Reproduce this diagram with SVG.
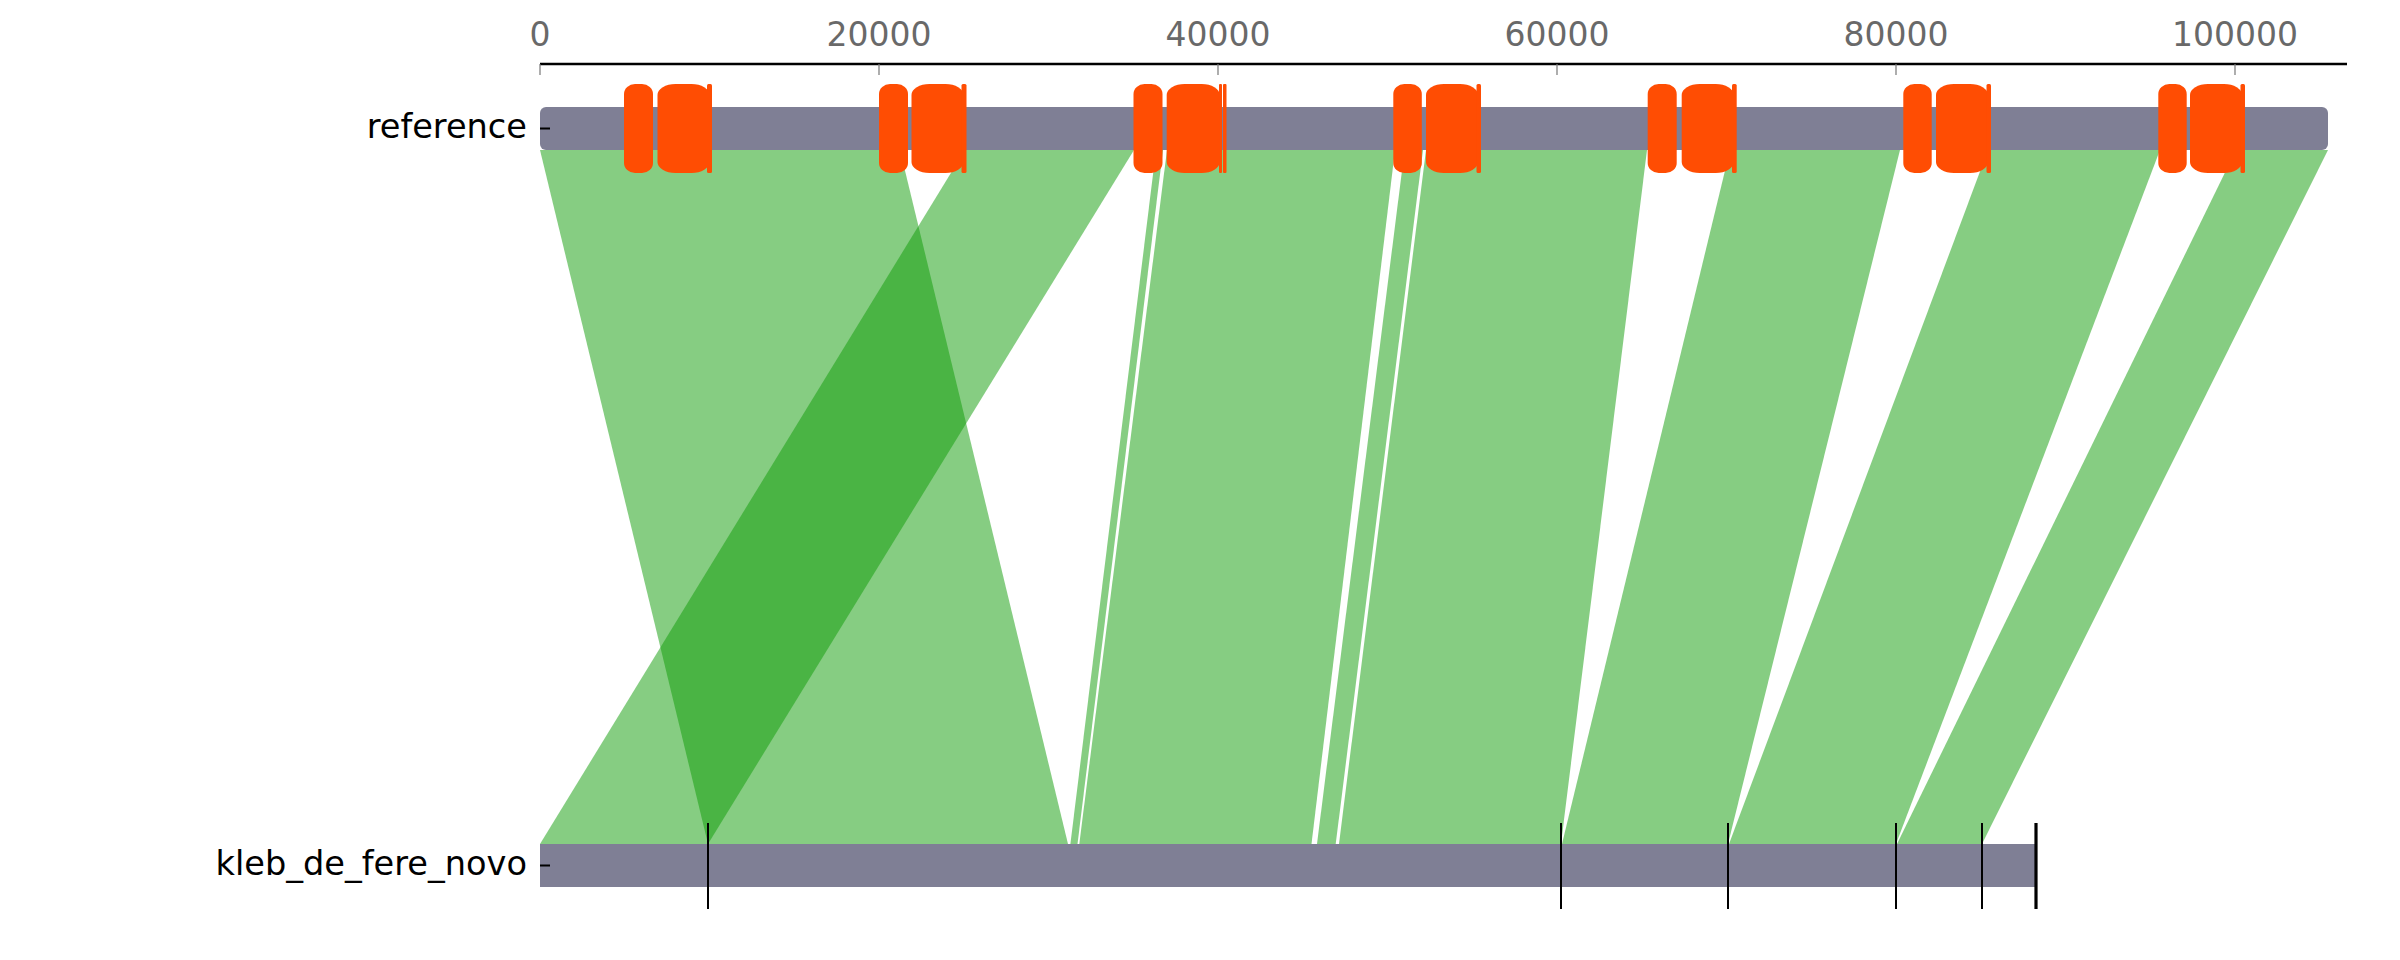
<svg xmlns="http://www.w3.org/2000/svg" width="2400" height="960" viewBox="0 0 2400 960">
<style>
.lbl{font-family:"DejaVu Sans",Verdana,sans-serif;font-size:33.6px;fill:#000}
.ax{font-family:"DejaVu Sans",Verdana,sans-serif;font-size:33px;fill:#696969;text-anchor:middle}
.rib{fill:#0e9b05;fill-opacity:0.5;stroke:none}
.bar{fill:#7f7f95}
.feat{fill:#ff4d03}
.tk{stroke:#000;stroke-width:2}
.gt{stroke:#777;stroke-width:1.2}
</style>
<rect width="2400" height="960" fill="#fff"/>
<g id="axis">
<line x1="540" y1="64" x2="2347" y2="64" stroke="#000" stroke-width="2.6"/>
<line class="gt" x1="540" y1="64" x2="540" y2="75"/>
<line class="gt" x1="879" y1="64" x2="879" y2="75"/>
<line class="gt" x1="1218" y1="64" x2="1218" y2="75"/>
<line class="gt" x1="1557" y1="64" x2="1557" y2="75"/>
<line class="gt" x1="1896" y1="64" x2="1896" y2="75"/>
<line class="gt" x1="2235" y1="64" x2="2235" y2="75"/>
<text class="ax" x="540" y="46">0</text>
<text class="ax" x="879" y="46">20000</text>
<text class="ax" x="1218" y="46">40000</text>
<text class="ax" x="1557" y="46">60000</text>
<text class="ax" x="1896" y="46">80000</text>
<text class="ax" x="2235" y="46">100000</text>
</g>
<g id="connectors">
<polygon class="rib" points="540,150 900,150 1068,844 708,844"/>
<polygon class="rib" points="965,150 1134,150 708,844 540,844"/>
<polygon class="rib" points="1156,150 1163,150 1077.5,844 1070.4,844"/>
<polygon class="rib" points="1167,150 1395,150 1311.5,844 1079.3,844"/>
<polygon class="rib" points="1404.6,150 1423,150 1335.7,844 1317,844"/>
<polygon class="rib" points="1426,150 1647,150 1561,844 1339,844"/>
<polygon class="rib" points="1730,150 1900,150 1728,844 1562,844"/>
<polygon class="rib" points="1988,150 2160,150 1896,844 1729,844"/>
<polygon class="rib" points="2236,150 2328,150 1982,844 1897,844"/>
</g>
<g id="reference">
<rect class="bar" x="540" y="107" width="1788" height="43" rx="6"/>
<text class="lbl" x="527" y="138" text-anchor="end">reference</text>
<line class="tk" x1="540" y1="128.5" x2="550" y2="128.5"/>
<g id="features">
<rect class="feat" x="624" y="84" width="29" height="89" rx="11" ry="10"/>
<rect class="feat" x="657.5" y="84" width="52" height="89" rx="18" ry="11"/>
<rect class="feat" x="707" y="84" width="5" height="89" rx="1.5"/>
<rect class="feat" x="879" y="84" width="29" height="89" rx="11" ry="10"/>
<rect class="feat" x="911.5" y="84" width="52" height="89" rx="18" ry="11"/>
<rect class="feat" x="961.5" y="84" width="5" height="89" rx="1.5"/>
<rect class="feat" x="1133.5" y="84" width="29" height="89" rx="11" ry="10"/>
<rect class="feat" x="1166.7" y="84" width="53" height="89" rx="18" ry="11"/>
<rect class="feat" x="1219" y="84" width="3" height="89" rx="1"/>
<rect class="feat" x="1223" y="84" width="3.5" height="89" rx="1"/>
<rect class="feat" x="1393.3" y="84" width="28.5" height="89" rx="11" ry="10"/>
<rect class="feat" x="1426" y="84" width="52" height="89" rx="18" ry="11"/>
<rect class="feat" x="1476.5" y="84" width="4.5" height="89" rx="1.5"/>
<rect class="feat" x="1647.7" y="84" width="29" height="89" rx="11" ry="10"/>
<rect class="feat" x="1681.7" y="84" width="52" height="89" rx="18" ry="11"/>
<rect class="feat" x="1732" y="84" width="4.7" height="89" rx="1.5"/>
<rect class="feat" x="1903.3" y="84" width="28.4" height="89" rx="11" ry="10"/>
<rect class="feat" x="1936" y="84" width="52" height="89" rx="18" ry="11"/>
<rect class="feat" x="1986.5" y="84" width="4.5" height="89" rx="1.5"/>
<rect class="feat" x="2158.3" y="84" width="28.4" height="89" rx="11" ry="10"/>
<rect class="feat" x="2190" y="84" width="52" height="89" rx="18" ry="11"/>
<rect class="feat" x="2240.5" y="84" width="4.5" height="89" rx="1.5"/>
</g>
</g>
<g id="kleb_de_fere_novo">
<rect class="bar" x="540" y="844" width="1496" height="43"/>
<text class="lbl" x="527" y="875" text-anchor="end">kleb_de_fere_novo</text>
<line class="tk" x1="540" y1="865.5" x2="550" y2="865.5"/>
<line class="tk" x1="708" y1="823" x2="708" y2="909"/>
<line class="tk" x1="1561" y1="823" x2="1561" y2="909"/>
<line class="tk" x1="1728" y1="823" x2="1728" y2="909"/>
<line class="tk" x1="1896" y1="823" x2="1896" y2="909"/>
<line class="tk" x1="1982" y1="823" x2="1982" y2="909"/>
<line x1="2036" y1="823" x2="2036" y2="909" stroke="#000" stroke-width="3.2"/>
</g>
</svg>
